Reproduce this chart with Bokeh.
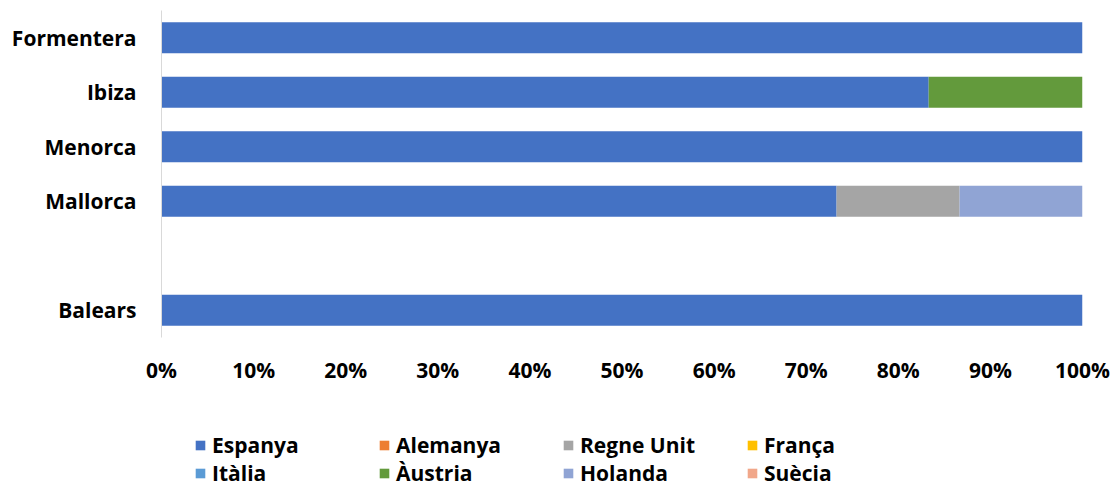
from bokeh.plotting import figure
from bokeh.layouts import column
from bokeh.models import FactorRange, Range1d, Legend, LegendItem, PrintfTickFormatter, FixedTicker
from bokeh.embed import file_html
from bokeh.resources import INLINE

categories = ["Balears", " ", "Mallorca", "Menorca", "Ibiza", "Formentera"]
series = ["Espanya", "Alemanya", "Regne Unit", "França", "Itàlia", "Àustria", "Holanda", "Suècia"]
colors = ["#4472C4", "#ED7D31", "#A5A5A5", "#FFC000", "#5B9BD5", "#639A3C", "#90A4D4", "#F1A78A"]

espanya    = [100.0, 0, 73.3, 100.0, 83.3, 100.0]
alemanya   = [0, 0, 0, 0, 0, 0]
regne_unit = [0, 0, 13.35, 0, 0, 0]
franca     = [0, 0, 0, 0, 0, 0]
italia     = [0, 0, 0, 0, 0, 0]
austria    = [0, 0, 0, 0, 16.7, 0]
holanda    = [0, 0, 13.35, 0, 0, 0]
suecia     = [0, 0, 0, 0, 0, 0]
x_ticks = [0, 10, 20, 30, 40, 50, 60, 70, 80, 90, 100]

data = {"cat": categories}
for name, vals in zip(series, [espanya, alemanya, regne_unit, franca, italia, austria, holanda, suecia]):
    data[name] = vals

FONT = "Open Sans"

p = figure(y_range=FactorRange(factors=categories, range_padding=0),
           x_range=Range1d(0, 100),
           width=1115, height=400, output_backend="svg", toolbar_location=None,
           min_border_left=161, min_border_right=33, min_border_top=10, min_border_bottom=63)
p.outline_line_color = None
p.xgrid.visible = False
p.ygrid.visible = False

rs = p.hbar_stack(series, y="cat", height=0.57, color=colors, source=data, line_color=None)

p.xaxis.ticker = FixedTicker(ticks=x_ticks)
p.xaxis.formatter = PrintfTickFormatter(format="%d%%")
p.xaxis.axis_line_color = None
p.xaxis.major_tick_line_color = None
p.xaxis.minor_tick_line_color = None
p.xaxis.major_label_standoff = 12
p.xaxis.major_label_text_font = FONT
p.xaxis.major_label_text_font_style = "bold"
p.xaxis.major_label_text_font_size = "21px"
p.xaxis.major_label_text_color = "#000000"

p.yaxis.axis_line_color = "#D9D9D9"
p.yaxis.major_tick_line_color = None
p.yaxis.minor_tick_line_color = None
p.yaxis.major_label_standoff = 19
p.yaxis.major_label_text_font = FONT
p.yaxis.major_label_text_font_style = "bold"
p.yaxis.major_label_text_font_size = "21px"
p.yaxis.major_label_text_color = "#000000"

# Legend figure: same series, hidden renderers only used for the legend swatches
q = figure(y_range=FactorRange(factors=categories), x_range=Range1d(0, 100),
           width=1115, height=87, output_backend="svg", toolbar_location=None,
           min_border_left=0, min_border_right=0, min_border_top=0, min_border_bottom=0)
q.axis.visible = False
q.grid.visible = False
q.outline_line_color = None
qs = q.hbar_stack(series, y="cat", height=0.57, color=colors, source=data, line_color=None)
for r in qs:
    r.visible = False

items = [LegendItem(label=name, renderers=[r]) for name, r in zip(series, qs)]
legend = Legend(items=items, ncols=4, orientation="horizontal",
                glyph_width=12, glyph_height=12, label_standoff=6,
                label_width=166, spacing=0, padding=0, margin=0,
                label_text_font=FONT, label_text_font_style="bold",
                label_text_font_size="21px", label_height=20,
                label_text_color="#000000",
                inactive_fill_alpha=0,
                border_line_color=None, background_fill_alpha=0,
                location=(33, 0))
q.add_layout(legend, "center")

layout = column(p, q, spacing=0)
open("out.html", "w").write(file_html(layout, INLINE))
